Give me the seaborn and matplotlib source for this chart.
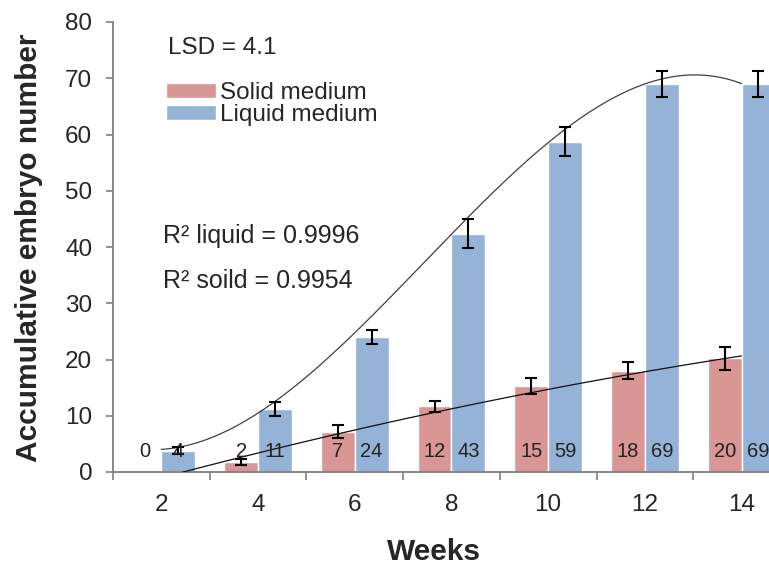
import numpy as np
import pandas as pd
import seaborn as sns
import matplotlib.pyplot as plt
from matplotlib.ticker import FixedLocator

weeks = ["2", "4", "6", "8", "10", "12", "14"]
solid = [0, 1.8, 7.2, 11.7, 15.3, 18.0, 20.2]
liquid = [3.8, 11.2, 24.0, 42.4, 58.7, 69.0, 69.0]
solid_err = [0, 0.6, 1.1, 0.95, 1.4, 1.5, 2.0]
liquid_err = [0.6, 1.25, 1.3, 2.6, 2.6, 2.35, 2.35]
solid_labels = ["0", "2", "7", "12", "15", "18", "20"]
liquid_labels = ["4", "11", "24", "43", "59", "69", "69"]
media = ["Solid medium", "Liquid medium"]

red = "#D99694"
blue = "#95B3D7"

sns.set_theme(style="white")
plt.rcParams["font.family"] = ["Liberation Sans", "DejaVu Sans"]

df = pd.DataFrame({
    "week": weeks * 2,
    "medium": [media[0]] * 7 + [media[1]] * 7,
    "value": solid + liquid,
})

fig = plt.figure(figsize=(7.69, 5.65), dpi=100)
ax = fig.add_axes([113 / 769, 1 - 472 / 565, 1 - 113 / 769, 450 / 565])

sns.barplot(data=df, x="week", y="value", hue="medium", order=weeks,
            hue_order=media, palette=[red, blue], width=0.7, gap=0,
            errorbar=None, saturation=1, ax=ax)

# bar centres from the drawn bars
xs_s = [p.get_x() + p.get_width() / 2 for p in ax.containers[0]]
xs_l = [p.get_x() + p.get_width() / 2 for p in ax.containers[1]]

# error bars (none for the zero value)
keep = [i for i, e in enumerate(solid_err) if e > 0]
ax.errorbar([xs_s[i] for i in keep], [solid[i] for i in keep],
            yerr=[solid_err[i] for i in keep], fmt="none", ecolor="black",
            elinewidth=1.5, capsize=4.5, capthick=1.5, zorder=5)
ax.errorbar(xs_l, liquid, yerr=liquid_err, fmt="none", ecolor="black",
            elinewidth=1.5, capsize=4.5, capthick=1.5, zorder=5)

# polynomial trend lines
xi = np.arange(len(weeks))
xx = np.linspace(0, len(weeks) - 1, 200)
ax.plot(xx, np.polyval(np.polyfit(xi, liquid, 3), xx), color="#404040", lw=0.9, zorder=4)
ax.plot(xx, np.polyval(np.polyfit(xi, solid, 2), xx), color="#101010", lw=0.9, zorder=4)

# value labels at the bottom of the bars
lab_font = ["Liberation Sans Narrow", "Liberation Sans"]
for x, t in zip(xs_s, solid_labels):
    ax.text(x, 3.7, t, ha="center", va="center", fontsize=14.5, color="#222222", family=lab_font, zorder=6)
for x, t in zip(xs_l, liquid_labels):
    ax.text(x, 3.7, t, ha="center", va="center", fontsize=14.5, color="#222222", family=lab_font, zorder=6)

ax.set_ylim(0, 80)
ax.set_xlim(-0.5, -0.5 + 656 / 96.7)
ax.set_yticks(range(0, 81, 10))
ax.tick_params(axis="y", labelsize=17.5, length=5, width=1.2, color="#7f7f7f",
               pad=10, direction="out", left=True)
ax.xaxis.set_minor_locator(FixedLocator(np.arange(-0.5, 7, 1)))
ax.tick_params(axis="x", which="major", labelsize=17.5, length=0, pad=16)
ax.tick_params(axis="x", which="minor", length=6, width=1.2, color="#7f7f7f",
               direction="out", bottom=True)

for s in ["top", "right"]:
    ax.spines[s].set_visible(False)
for s in ["left", "bottom"]:
    ax.spines[s].set_color("#7f7f7f")
    ax.spines[s].set_linewidth(1.3)

ax.set_xlabel("Weeks", fontsize=21.5, fontweight="bold")
ax.set_ylabel("Accumulative embryo number", fontsize=21.5, fontweight="bold")
ax.xaxis.set_label_coords((434 - 113) / 656, (472 - 538) / 450)
ax.yaxis.set_label_coords((43 - 113) / 656, (472 - 248) / 450)

handles, labels = ax.get_legend_handles_labels()
ax.legend(handles, labels, loc="upper left",
          bbox_to_anchor=(166 / 769, 1 - 82 / 565), bbox_transform=fig.transFigure,
          frameon=False, fontsize=17.5, handlelength=2.05, handleheight=0.55,
          handletextpad=0.18, labelspacing=0.0, borderpad=0, borderaxespad=0)

fig.text(168 / 769, 1 - 48 / 565, "LSD = 4.1", fontsize=17.5, va="center", ha="left")
fig.text(163 / 769, 1 - 236 / 565, "R² liquid = 0.9996", fontsize=18, va="center", ha="left")
fig.text(163 / 769, 1 - 281 / 565, "R² soild = 0.9954", fontsize=18, va="center", ha="left")

fig.savefig("out.png", dpi=100)
